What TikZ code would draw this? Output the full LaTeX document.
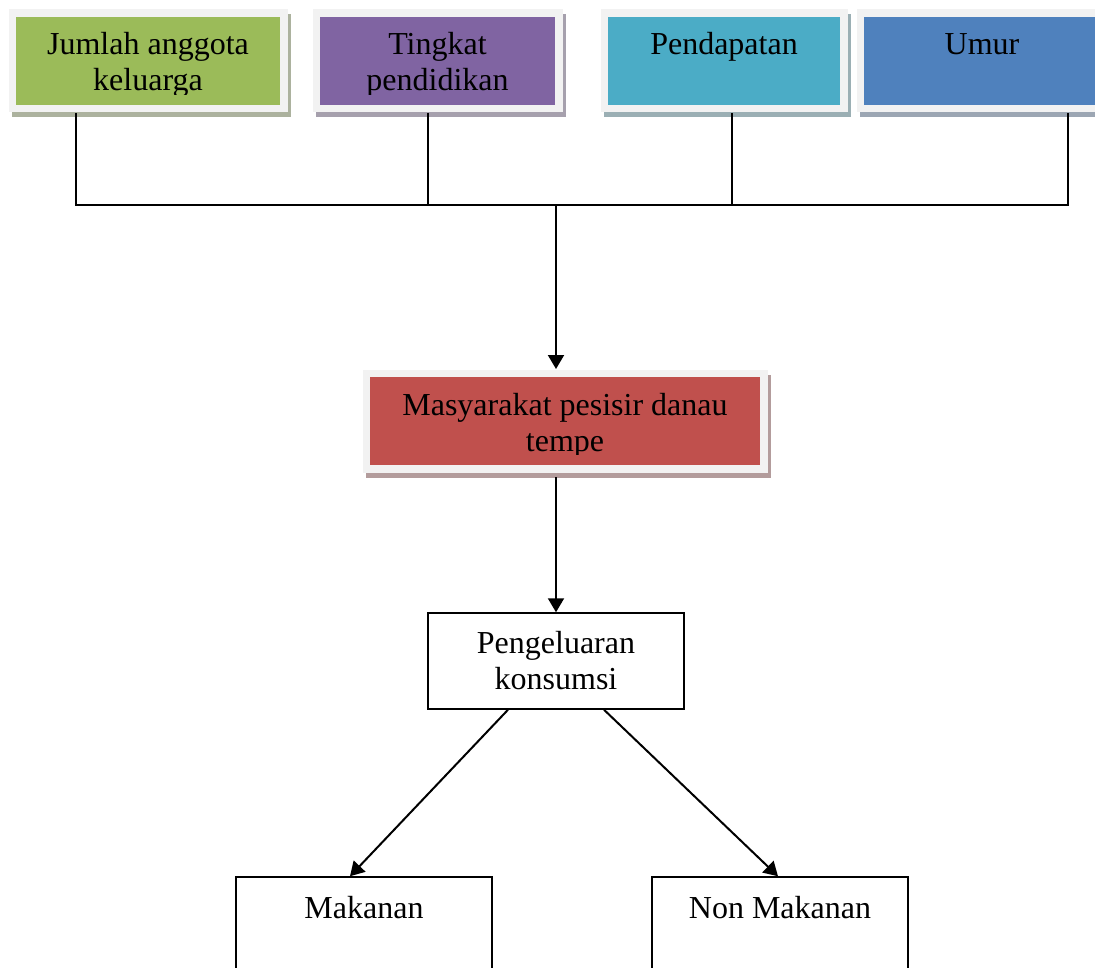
\documentclass[tikz,border=0pt]{standalone}
\usepackage{fontspec}
\setmainfont{Liberation Serif}
\usetikzlibrary{arrows.meta, calc}

\definecolor{boxgreen}{HTML}{9BBB59}
\definecolor{boxpurple}{HTML}{8064A2}
\definecolor{boxcyan}{HTML}{4BACC6}
\definecolor{boxblue}{HTML}{4F81BD}
\definecolor{boxred}{HTML}{C0504D}
\definecolor{framegray}{HTML}{F2F2F2}

\begin{document}
\begin{tikzpicture}[
  x=1pt, y=-1pt,
  font=\fontsize{32}{36}\selectfont,
  line width=2pt,
  factor/.style={fill=#1, inner sep=0pt, outer sep=0pt, minimum height=88pt,
    preaction={draw=#1!45!black!45!white, line width=15pt,
      transform canvas={shift={(3pt,-5pt)}}},
    preaction={draw=framegray, line width=15pt}},
  boxtext/.style={anchor=base, align=center, inner sep=0pt},
  plainbox/.style={draw, line width=1.5pt, inner sep=0pt, align=center,
    minimum width=256pt, minimum height=96pt},
  link/.style={-{Triangle[length=14pt, width=16pt]}}
]
\useasboundingbox (0,0) rectangle (1095,968);

% ------------------- Top: the four factors ------------------- %
\node[factor=boxgreen,  minimum width=264pt] (jumlah) at (148,61) {};
\node[factor=boxpurple, minimum width=235pt] (tingkat) at (437.5,61) {};
\node[factor=boxcyan,   minimum width=232pt] (pendapatan) at (724,61) {};
\node[factor=boxblue,   minimum width=236pt] (umur) at (982,61) {};

% texts are cut off at the lower edge, as in the text boxes
% (the base of a two-line text is its last line)
\begin{scope}
  \clip (0,17) rectangle (1095,95);
  \node[boxtext] (jumlah-txt) at (jumlah.north |- 0,91) {Jumlah anggota\\keluarga};
  \node[boxtext] (tingkat-txt) at (tingkat.north |- 0,91) {Tingkat\\pendidikan};
  \node[boxtext] (pendapatan-txt) at (pendapatan.north |- 0,55) {Pendapatan};
  \node[boxtext] (umur-txt) at (umur.north |- 0,55) {Umur};
\end{scope}

% stems and the joining line
\coordinate (s1) at ($(jumlah.south)+(-72,8)$);
\coordinate (s2) at ($(tingkat.south)+(-9.5,8)$);
\coordinate (s3) at ($(pendapatan.south)+(8,8)$);
\coordinate (s4) at ($(umur.south)+(86,8)$);
\coordinate (bus) at (556,205);

\draw (s1) -- (s1 |- bus) -- (s4 |- bus) -- (s4);
\draw (s2) -- (s2 |- bus);
\draw (s3) -- (s3 |- bus);

% ------------------- Middle: the community ------------------- %
\node[factor=boxred, minimum width=390pt] (masyarakat) at (565,421) {};
\begin{scope}
  \clip (370,377) rectangle (760,454);
  \node[boxtext] (masyarakat-txt) at (masyarakat.north |- 0,451) {Masyarakat pesisir danau\\tempe};
\end{scope}

\draw[link] (bus) -- ($(bus |- masyarakat.north)+(0,-8)$);

% ------------------- Bottom: the spending ------------------- %
\node[plainbox] (pengeluaran) at (556,661) {Pengeluaran\\konsumsi};
\node[plainbox, text height=41pt, text depth=55pt] (makanan) at (364,925) {Makanan};
\node[plainbox, text height=41pt, text depth=55pt] (nonmakanan) at (780,925) {Non Makanan};

\draw[link] ($(bus |- masyarakat.south)+(0,12)$) -- (pengeluaran.north);
\draw[link] ($(pengeluaran.south)+(-48,0)$) -- ($(makanan.north)+(-14,0)$);
\draw[link] ($(pengeluaran.south)+(48,0)$) -- ($(nonmakanan.north)+(-2,0)$);

\end{tikzpicture}
\end{document}
